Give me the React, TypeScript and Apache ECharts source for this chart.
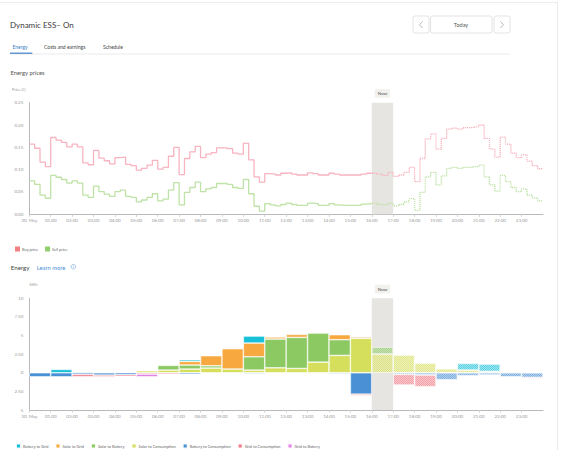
import React, { useEffect, useRef } from "react";
import * as echarts from "echarts";

// ---------- DATA ----------
const dayLabel = "30. May";
const nowHour = 16;

// 15-minute prices (€), 96 values per day
const buyPrice = [
  0.157, 0.148, 0.117, 0.107,
  0.172, 0.166, 0.161, 0.151,
  0.157, 0.151, 0.115, 0.111,
  0.143, 0.126, 0.12, 0.113,
  0.127, 0.128, 0.112, 0.109,
  0.099, 0.103, 0.11, 0.121,
  0.101, 0.105, 0.13, 0.15,
  0.089, 0.125, 0.14, 0.152,
  0.127, 0.135, 0.138, 0.149,
  0.149, 0.147, 0.137, 0.135,
  0.159, 0.122, 0.084, 0.072,
  0.091, 0.09, 0.088, 0.092,
  0.093, 0.09, 0.088, 0.088,
  0.093, 0.091, 0.088, 0.088,
  0.092, 0.09, 0.088, 0.088,
  0.088, 0.088, 0.09, 0.092,
  0.092, 0.09, 0.087, 0.094,
  0.085, 0.088, 0.094, 0.105,
  0.073, 0.125, 0.169, 0.18,
  0.146, 0.17, 0.191, 0.193,
  0.191, 0.194, 0.194, 0.196,
  0.2, 0.17, 0.146, 0.128,
  0.173, 0.157, 0.137, 0.127,
  0.133, 0.119, 0.109, 0.102,
];
const sellPrice = [
  0.075, 0.067, 0.043, 0.036,
  0.087, 0.083, 0.078, 0.07,
  0.075, 0.07, 0.043, 0.038,
  0.063, 0.051, 0.045, 0.04,
  0.051, 0.054, 0.04, 0.038,
  0.028, 0.032, 0.038, 0.046,
  0.03, 0.034, 0.054, 0.071,
  0.021, 0.049, 0.06, 0.072,
  0.051, 0.057, 0.06, 0.069,
  0.069, 0.067, 0.06, 0.058,
  0.078, 0.046, 0.018, 0.007,
  0.024, 0.021, 0.019, 0.022,
  0.025, 0.022, 0.02, 0.02,
  0.025, 0.024, 0.02, 0.02,
  0.024, 0.021, 0.02, 0.02,
  0.02, 0.02, 0.023, 0.024,
  0.025, 0.022, 0.021, 0.025,
  0.019, 0.022, 0.028, 0.035,
  0.009, 0.049, 0.084, 0.094,
  0.066, 0.086, 0.103, 0.105,
  0.103, 0.105, 0.105, 0.107,
  0.11, 0.084, 0.066, 0.052,
  0.087, 0.073, 0.06, 0.051,
  0.057, 0.043, 0.037, 0.03,
];

// hourly energy (kWh)
const hours = [
  "0", "1", "2", "3", "4", "5", "6", "7", "8", "9", "10", "11",
  "12", "13", "14", "15", "16", "17", "18", "19", "20", "21", "22", "23",
];
const solarToConsumption = [0, 0, 0, 0, 0, 0.27, 0.36, 0.5, 0.63, 0.5, 0.36, 0.67, 0.58, 1.43, 2.33, 4.62, 2.51, 2.38, 1.3, 0.54, 0.36, 0.18, 0.13, 0];
const solarToBattery = [0, 0, 0, 0, 0, 0, 0.63, 0.54, 0.31, 0, 1.79, 3.86, 4.17, 3.9, 2.11, 0, 0.94, 0, 0, 0, 0, 0, 0, 0];
const solarToGrid = [0, 0, 0, 0, 0, 0, 0, 0.49, 1.35, 2.73, 1.84, 0.27, 0.4, 0, 0.67, 0.18, 0, 0, 0, 0, 0, 0, 0, 0];
const batteryToGrid = [0, 0.45, 0.13, 0, 0, 0, 0, 0.22, 0, 0, 0.94, 0, 0, 0, 0, 0, 0, 0, 0, 0, 0.9, 0.99, 0, 0];
const batteryToConsumption = [-0.55, -0.55, -0.22, -0.31, -0.27, 0, 0, -0.2, 0, 0, -0.13, 0, 0, 0, -0.13, -2.87, 0, -0.22, -0.3, -0.94, -0.4, -0.3, -0.54, -0.63];
const gridToConsumption = [0, 0, -0.31, -0.22, -0.22, -0.18, -0.18, 0, 0, 0, 0, 0, 0, 0, 0, -0.18, 0, -1.43, -1.57, 0, 0, 0, 0, -0.13];
const gridToBattery = [0, 0, 0, 0, 0, -0.36, 0, 0, 0, 0, 0, 0, 0, 0, 0, 0, 0, 0, 0, 0, 0, 0, 0, 0];

// ---------- STYLE ----------
const FONT = "Lato, 'Open Sans', sans-serif";
const C = {
  buyLine: "#f8b4c0",
  sellLine: "#bfe2a6",
  buyKey: "#f47f7f",
  sellKey: "#8fd06c",
  b2g: "#17c0d9",
  s2g: "#f7a940",
  s2b: "#8cc962",
  s2c: "#d5df5c",
  b2c: "#4a90d4",
  g2c: "#f07b86",
  g2b: "#e282e6",
  band: "#e6e5e1",
  axis: "#b9b9b9",
  label: "#9a9a9a",
  blue: "#3c7ec6",
};

const pad2 = (v: number) => (v < 10 ? "0" + v : String(v));
const hourLabel = (v: number) => (v === 0 ? dayLabel : v >= 24 ? "" : pad2(v) + ":00");

function stepData(arr: number[], from: number, to: number) {
  const out: number[][] = [];
  for (let i = from; i <= to; i++) {
    out.push([i / 4, arr[Math.min(i, arr.length - 1)]]);
  }
  return out;
}

const decal = {
  symbol: "rect",
  symbolSize: 1,
  color: "rgba(255,255,255,0.55)",
  dashArrayX: [[1, 1], [0, 1, 1, 0]],
  dashArrayY: [1, 0],
};

function barData(arr: number[]) {
  return arr.map((v, i) => {
    if (v === 0) return "-";
    if (i >= nowHour) return { value: v, itemStyle: { opacity: 0.7, decal } };
    return v;
  });
}

export default function App() {
  const ref = useRef<HTMLDivElement>(null);

  useEffect(() => {
    if (!ref.current) return;
    const chart = echarts.init(ref.current, undefined, { renderer: "svg" });

    const GL = 29.3;
    const GW = 513.7;
    const nowLabel = {
      show: true,
      position: "top",
      formatter: "Now",
      fontSize: 4.5,
      fontFamily: FONT,
      color: "#555",
      backgroundColor: "#f1f1ee",
      padding: [2, 3, 1.5, 3],
      distance: 5,
    };

    const xValAxis = (gridIndex: number) => ({
      type: "value",
      gridIndex,
      position: "bottom",
      min: 0,
      max: 24,
      interval: 1,
      splitLine: { show: false },
      axisLine: { show: true, onZero: false, lineStyle: { color: C.axis, width: 1 } },
      axisTick: { show: true, length: 2.5, lineStyle: { color: "#cfcfcf" } },
      axisLabel: {
        fontSize: 4.5,
        color: C.label,
        margin: 4,
        fontFamily: FONT,
        showMaxLabel: false,
        formatter: (v: number) => hourLabel(v),
      },
    });

    const barSeries = (name: string, arr: number[], color: string) => ({
      name,
      type: "bar",
      xAxisIndex: 1,
      yAxisIndex: 1,
      stack: "energy",
      barCategoryGap: "0%",
      barGap: "0%",
      z: 3,
      itemStyle: { color, borderColor: "rgba(255,255,255,0.9)", borderWidth: 0.6 },
      data: barData(arr),
    });

    const option: any = {
      animation: false,
      textStyle: { fontFamily: FONT },
      grid: [
        { left: GL, top: 102.7, width: GW, height: 111.6 },
        { left: GL, top: 298.3, width: GW, height: 111.7 },
      ],
      xAxis: [
        xValAxis(0),
        { type: "category", gridIndex: 1, position: "bottom", data: hours, show: false, boundaryGap: true },
        xValAxis(1),
      ],
      yAxis: [
        {
          type: "value",
          gridIndex: 0,
          min: 0,
          max: 0.25,
          interval: 0.05,
          splitLine: { show: false },
          axisLine: { show: true, lineStyle: { color: C.axis } },
          axisTick: { show: false },
          axisLabel: { fontSize: 4.5, color: C.label, margin: 6, fontFamily: FONT, formatter: (v: number) => v.toFixed(2) },
        },
        {
          type: "value",
          gridIndex: 1,
          min: -5,
          max: 10,
          interval: 2.5,
          splitLine: { show: false },
          axisLine: { show: true, lineStyle: { color: C.axis } },
          axisTick: { show: false },
          axisLabel: {
            fontSize: 4.5,
            color: C.label,
            margin: 6,
            fontFamily: FONT,
            formatter: (v: number) => {
              const a = Math.abs(v);
              return Number.isInteger(a) ? String(a) : a.toFixed(2);
            },
          },
        },
      ],
      legend: [
        {
          left: 10,
          top: 241.5,
          itemWidth: 5,
          itemHeight: 5,
          itemGap: 7,
          icon: "rect",
          selectedMode: false,
          textStyle: { fontSize: 3.9, color: "#666", fontFamily: FONT, padding: [0, 0, 0, -3] },
          data: [
            { name: "Buy price", itemStyle: { color: C.buyKey } },
            { name: "Sell price", itemStyle: { color: C.sellKey } },
          ],
        },
        {
          left: 10,
          top: 437.5,
          itemWidth: 5,
          itemHeight: 5,
          itemGap: 6,
          icon: "rect",
          selectedMode: false,
          textStyle: { fontSize: 3.9, color: "#666", fontFamily: FONT, padding: [0, 0, 0, -3] },
          data: [
            "Battery to Grid",
            "Solar to Grid",
            "Solar to Battery",
            "Solar to Consumption",
            "Battery to Consumption",
            "Grid to Consumption",
            "Grid to Battery",
          ],
        },
      ],
      series: [
        {
          type: "line",
          name: "nowBandTop",
          xAxisIndex: 0,
          yAxisIndex: 0,
          z: 1,
          data: [[16, 0]],
          symbol: "none",
          lineStyle: { opacity: 0 },
          silent: true,
          markArea: {
            silent: true,
            itemStyle: { color: C.band },
            label: nowLabel,
            data: [[{ xAxis: nowHour }, { xAxis: nowHour + 1 }]],
          },
        },
        {
          type: "line",
          name: "Buy price",
          xAxisIndex: 0,
          yAxisIndex: 0,
          step: "end",
          symbol: "none",
          z: 3,
          itemStyle: { color: C.buyKey },
          lineStyle: { color: C.buyLine, width: 1.3 },
          data: stepData(buyPrice, 0, nowHour * 4),
        },
        {
          type: "line",
          name: "Buy price",
          xAxisIndex: 0,
          yAxisIndex: 0,
          step: "end",
          symbol: "none",
          z: 3,
          itemStyle: { color: C.buyKey },
          lineStyle: { color: C.buyLine, width: 1.3, type: [1.2, 0.8] },
          data: stepData(buyPrice, nowHour * 4, 96),
        },
        {
          type: "line",
          name: "Sell price",
          xAxisIndex: 0,
          yAxisIndex: 0,
          step: "end",
          symbol: "none",
          z: 3,
          itemStyle: { color: C.sellKey },
          lineStyle: { color: C.sellLine, width: 1.3 },
          data: stepData(sellPrice, 0, nowHour * 4),
        },
        {
          type: "line",
          name: "Sell price",
          xAxisIndex: 0,
          yAxisIndex: 0,
          step: "end",
          symbol: "none",
          z: 3,
          itemStyle: { color: C.sellKey },
          lineStyle: { color: C.sellLine, width: 1.3, type: [1.2, 0.8] },
          data: stepData(sellPrice, nowHour * 4, 96),
        },
        {
          type: "line",
          name: "nowBandBottom",
          xAxisIndex: 2,
          yAxisIndex: 1,
          z: 1,
          data: [[16, 0]],
          symbol: "none",
          lineStyle: { opacity: 0 },
          silent: true,
          markArea: {
            silent: true,
            itemStyle: { color: C.band },
            label: nowLabel,
            data: [[{ xAxis: nowHour }, { xAxis: nowHour + 1 }]],
          },
        },
        barSeries("Solar to Consumption", solarToConsumption, C.s2c),
        barSeries("Solar to Battery", solarToBattery, C.s2b),
        barSeries("Solar to Grid", solarToGrid, C.s2g),
        barSeries("Battery to Grid", batteryToGrid, C.b2g),
        barSeries("Battery to Consumption", batteryToConsumption, C.b2c),
        barSeries("Grid to Consumption", gridToConsumption, C.g2c),
        barSeries("Grid to Battery", gridToBattery, C.g2b),
      ],
      graphic: [
        {
          type: "rect",
          z: -10,
          shape: { x: -2, y: 2.5, width: 559.5, height: 460 },
          style: { fill: "none", stroke: "#ececec", lineWidth: 1 },
        },
        {
          type: "text",
          x: 10,
          y: 25,
          style: { text: "Dynamic ESS– On", fontSize: 8, fontFamily: FONT, fill: "#3a3a3a", verticalAlign: "middle" },
        },
        { type: "rect", shape: { x: 413, y: 16, width: 16, height: 17, r: 2 }, style: { fill: "#fff", stroke: "#dcdcdc", lineWidth: 0.8 } },
        { type: "polyline", shape: { points: [[422.5, 21.5], [419.5, 24.7], [422.5, 28]] }, style: { stroke: "#999", lineWidth: 0.7, fill: "none" } },
        { type: "rect", shape: { x: 430.5, y: 16, width: 61.5, height: 17, r: 2 }, style: { fill: "#fff", stroke: "#dcdcdc", lineWidth: 0.8 } },
        {
          type: "text",
          x: 461,
          y: 24.7,
          style: { text: "Today", fontSize: 5.5, fontFamily: FONT, fill: "#555", align: "center", verticalAlign: "middle" },
        },
        { type: "rect", shape: { x: 494, y: 16, width: 16, height: 17, r: 2 }, style: { fill: "#fff", stroke: "#dcdcdc", lineWidth: 0.8 } },
        { type: "polyline", shape: { points: [[500.5, 21.5], [503.5, 24.7], [500.5, 28]] }, style: { stroke: "#999", lineWidth: 0.7, fill: "none" } },
        {
          type: "text",
          x: 12.5,
          y: 47,
          style: { text: "Energy", fontSize: 5, fontFamily: FONT, fill: C.blue, verticalAlign: "middle" },
        },
        {
          type: "text",
          x: 44,
          y: 47,
          style: { text: "Costs and earnings", fontSize: 5, fontFamily: FONT, fill: "#444", verticalAlign: "middle" },
        },
        {
          type: "text",
          x: 103,
          y: 47,
          style: { text: "Schedule", fontSize: 5, fontFamily: FONT, fill: "#444", verticalAlign: "middle" },
        },
        { type: "line", shape: { x1: 10, y1: 54, x2: 510, y2: 54 }, style: { stroke: "#e6e6e6", lineWidth: 0.8 } },
        { type: "rect", shape: { x: 10, y: 52.6, width: 22.3, height: 1.2 }, style: { fill: C.blue } },
        {
          type: "text",
          x: 10.5,
          y: 72,
          style: { text: "Energy prices", fontSize: 5.8, fontFamily: FONT, fill: "#555", verticalAlign: "middle" },
        },
        {
          type: "text",
          x: 12,
          y: 89.5,
          style: { text: "Price (€)", fontSize: 3.8, fontFamily: FONT, fill: "#999", verticalAlign: "middle" },
        },
        {
          type: "text",
          x: 10.7,
          y: 267.3,
          style: { text: "Energy", fontSize: 6.2, fontFamily: FONT, fill: "#444", verticalAlign: "middle" },
        },
        {
          type: "text",
          x: 36.7,
          y: 267.3,
          style: { text: "Learn more", fontSize: 5.8, fontFamily: FONT, fill: "#4d8fd6", verticalAlign: "middle" },
        },
        { type: "circle", shape: { cx: 73.3, cy: 266.8, r: 2.3 }, style: { fill: "none", stroke: "#4d8fd6", lineWidth: 0.5 } },
        {
          type: "text",
          x: 73.3,
          y: 267,
          style: { text: "i", fontSize: 3.2, fontFamily: FONT, fill: "#4d8fd6", align: "center", verticalAlign: "middle" },
        },
        {
          type: "text",
          x: 29.5,
          y: 284.7,
          style: { text: "kWh", fontSize: 3.8, fontFamily: FONT, fill: "#999", verticalAlign: "middle" },
        },
      ],
    };

    chart.setOption(option);
    return () => chart.dispose();
  }, []);

  return (
    <div style={{ position: "fixed", left: 0, top: 0, width: 561, height: 450, background: "#fff" }}>
      <div ref={ref} style={{ width: 561, height: 450 }} />
    </div>
  );
}
